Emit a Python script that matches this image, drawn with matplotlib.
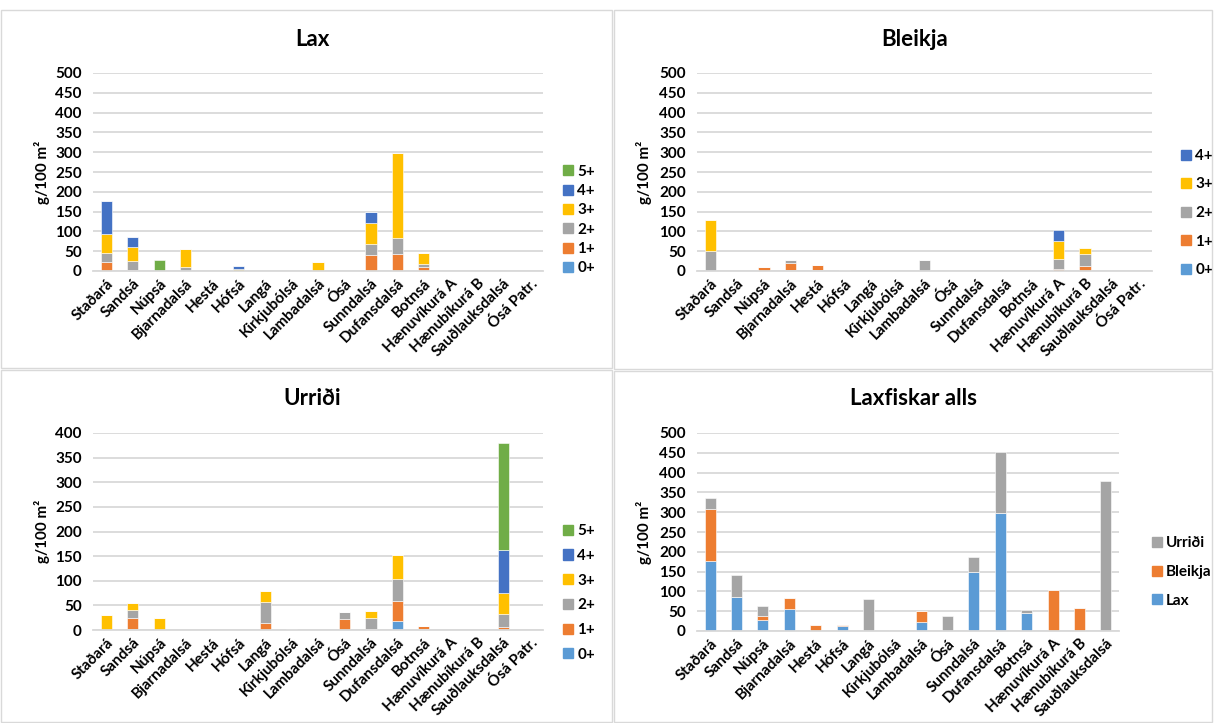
import numpy as np
import matplotlib
matplotlib.use("Agg")
import matplotlib.pyplot as plt
from matplotlib.patches import Patch, Rectangle

plt.rcParams['font.family'] = ['Lato', 'DejaVu Sans']
plt.rcParams['font.weight'] = 'bold'

# Rivers (Laxfiskar alls has no Ósá Patr.)
rivers = ['Staðará', 'Sandsá', 'Núpsá', 'Bjarnadalsá', 'Hestá', 'Hófsá', 'Langá',
          'Kirkjubólsá', 'Lambadalsá', 'Ósá', 'Sunndalsá', 'Dufansdalsá', 'Botnsá',
          'Hænuvíkurá A', 'Hænubíkurá B', 'Sauðlauksdalsá', 'Ósá Patr.']
ages = ['0+', '1+', '2+', '3+', '4+', '5+']

# biomass g/100 m2 per age class, one row per age
lax = [
    [0, 0, 0, 0, 0, 0, 0, 0, 0, 0, 0, 0, 0, 0, 0, 0, 0],
    [22, 3, 0, 0, 0, 0, 0, 0, 0, 0, 40, 44, 11, 0, 0, 0, 0],
    [24, 21, 0, 10, 0, 0, 0, 0, 0, 0, 29, 40, 7, 0, 0, 0, 0],
    [48, 36, 0, 45, 0, 5, 0, 0, 23, 0, 51, 215, 28, 0, 0, 0, 0],
    [83, 27, 0, 0, 0, 7, 0, 0, 0, 0, 30, 0, 0, 0, 0, 0, 0],
    [0, 0, 28, 0, 0, 0, 0, 0, 0, 0, 0, 0, 0, 0, 0, 0, 0],
]
bleikja = [
    [0, 0, 0, 2, 3, 0, 0, 0, 0, 0, 0, 0, 0, 0, 0, 0, 0],
    [0, 0, 11, 19, 12, 2, 0, 0, 0, 0, 0, 0, 0, 6, 12, 0, 0],
    [50, 0, 0, 8, 0, 0, 0, 0, 28, 0, 0, 0, 0, 25, 32, 0, 0],
    [80, 0, 0, 0, 0, 0, 0, 0, 0, 0, 0, 0, 0, 45, 13, 0, 0],
    [0, 0, 0, 0, 0, 0, 0, 0, 0, 0, 0, 0, 0, 27, 0, 0, 0],
]
urridi = [
    [0, 2, 0, 0, 0, 0, 0, 0, 0, 0, 0, 18, 3, 0, 0, 0, 0],
    [0, 23, 0, 0, 0, 0, 15, 0, 0, 22, 2, 40, 5, 0, 0, 7, 0],
    [0, 15, 0, 0, 0, 0, 42, 3, 0, 15, 22, 45, 0, 0, 0, 26, 0],
    [30, 15, 25, 0, 0, 0, 23, 0, 0, 0, 14, 49, 0, 0, 0, 43, 0],
    [0, 0, 0, 0, 0, 0, 0, 0, 0, 0, 0, 0, 0, 0, 0, 87, 0],
    [0, 0, 0, 0, 0, 0, 0, 0, 0, 0, 0, 0, 0, 0, 0, 216, 0],
]

age_colors = ['#5B9BD5', '#ED7D31', '#A5A5A5', '#FFC000', '#4472C4', '#70AD47']
species_colors = {'Lax': '#5B9BD5', 'Bleikja': '#ED7D31', 'Urriði': '#A5A5A5'}

W, H = 1214, 723
fig = plt.figure(figsize=(W / 100, H / 100), dpi=100)

# light frames around the four charts
for x0, y0, x1, y1 in [(1, 10, 612, 368), (614, 10, 1212, 369),
                       (1, 370, 612, 722), (614, 371, 1212, 722)]:
    fig.add_artist(Rectangle((x0 / W, 1 - y1 / H), (x1 - x0) / W, (y1 - y0) / H,
                             transform=fig.transFigure, fill=False,
                             edgecolor='#D9D9D9', linewidth=1))


def add_ax(x0, y0, x1, y1):
    return fig.add_axes([x0 / W, (H - y1) / H, (x1 - x0) / W, (y1 - y0) / H])


def style(ax, ymax, labels, title, title_xy, ylab_x):
    ax.set_ylim(0, ymax)
    ax.set_xlim(-0.5, len(labels) - 0.5)
    ax.set_yticks(np.arange(0, ymax + 1, 50))
    ax.set_xticks(range(len(labels)))
    ax.set_xticklabels(labels, rotation=45, ha='right', rotation_mode='anchor',
                       fontsize=11, fontweight='bold')
    ax.tick_params(axis='y', labelsize=11, length=0, pad=8)
    ax.tick_params(axis='x', length=0, pad=4)
    for lbl in ax.get_yticklabels():
        lbl.set_fontweight('bold')
    ax.grid(axis='y', color='#D9D9D9', linewidth=1.3)
    ax.set_axisbelow(True)
    for s in ['top', 'right', 'left']:
        ax.spines[s].set_visible(False)
    ax.spines['bottom'].set_color('#D9D9D9')
    ax.spines['bottom'].set_linewidth(1.3)
    ax.set_ylabel('g/100 m²', fontsize=11, fontweight='bold')
    ax.yaxis.set_label_coords(ylab_x, 0.5)
    fig.text(title_xy[0] / W, 1 - title_xy[1] / H, title, ha='center', va='center',
             fontsize=16, fontweight='bold')


def legend(ax, handles, x, y, spacing):
    ax.legend(handles=handles[::-1], loc='center left',
              bbox_to_anchor=(x / W, 1 - y / H), bbox_transform=fig.transFigure,
              frameon=False, handlelength=0.65, handleheight=0.65,
              handletextpad=0.3, labelspacing=spacing, borderpad=0,
              prop={'weight': 'bold', 'size': 11})


def stacked(ax, data, n, colors):
    x = np.arange(n)
    bottom = np.zeros(n)
    handles = []
    for i, row in enumerate(data):
        vals = np.array(row[:n], dtype=float)
        ax.bar(x, vals, width=0.42, bottom=bottom, color=colors[i],
               edgecolor='white', linewidth=0.4)
        handles.append(Patch(color=colors[i], label=ages[i]))
        bottom += vals
    return handles


# Lax
ax1 = add_ax(93, 73, 543, 271)
h = stacked(ax1, lax, len(rivers), age_colors)
style(ax1, 500, rivers, 'Lax', (312, 40), -0.095)
legend(ax1, h, 555, 220, 0.35)

# Bleikja
ax2 = add_ax(697, 73, 1152, 271)
h = stacked(ax2, bleikja, len(rivers), age_colors)
style(ax2, 500, rivers, 'Bleikja', (915, 40), -0.099)
legend(ax2, h, 1173, 213, 0.95)

# Urriði
ax3 = add_ax(93, 433, 543, 630)
h = stacked(ax3, urridi, len(rivers), age_colors)
style(ax3, 400, rivers, 'Urriði', (312, 398), -0.095)
legend(ax3, h, 555, 593, 0.7)

# Laxfiskar alls: species totals stacked
n4 = len(rivers) - 1
tot = {'Lax': np.sum(lax, axis=0)[:n4],
       'Bleikja': np.sum(bleikja, axis=0)[:n4],
       'Urriði': np.sum(urridi, axis=0)[:n4]}
ax4 = add_ax(697, 433, 1119, 631)
x = np.arange(n4)
bottom = np.zeros(n4)
h = []
for sp, vals in tot.items():
    ax4.bar(x, vals, width=0.42, bottom=bottom, color=species_colors[sp],
            edgecolor='white', linewidth=0.4)
    h.append(Patch(color=species_colors[sp], label=sp))
    bottom += vals
style(ax4, 500, rivers[:n4], 'Laxfiskar alls', (913, 398), -0.107)
legend(ax4, h, 1144, 572, 0.95)

fig.savefig('out.png', dpi=100)
